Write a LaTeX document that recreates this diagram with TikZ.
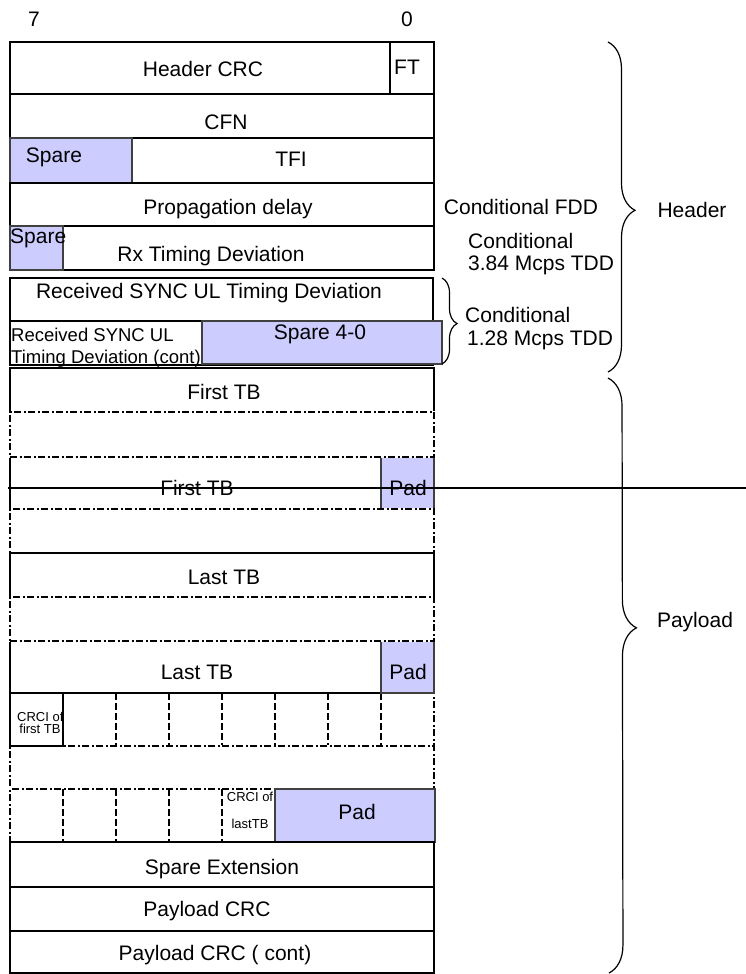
\documentclass[tikz,border=0pt]{standalone}
\usepackage{fontspec}
\setmainfont{Liberation Sans}
\usetikzlibrary{decorations.pathreplacing}
\definecolor{sparefill}{HTML}{CCCCFF}
\tikzset{
  box/.style={rectangle, draw=black, line width=1.1pt, inner sep=0pt, outer sep=0pt, anchor=north west},
  sparebox/.style={box, fill=sparefill, draw=black!75},
  dashrow/.style={box, line width=1.3pt, dash pattern=on 7pt off 2.5pt on 2pt off 2.5pt,
     preaction={draw=white, line width=2.4pt, solid}},
  divider/.style={line width=1.2pt, dash pattern=on 7pt off 3pt},
  lbl/.style={inner sep=0pt, font=\fontsize{21}{25}\selectfont, text height=15pt, text depth=0pt},
  slbl/.style={inner sep=0pt, font=\fontsize{18.5}{22}\selectfont, text height=13.2pt, text depth=0pt},
  tlbl/.style={inner sep=0pt, font=\fontsize{13}{15}\selectfont, text height=9.3pt, text depth=0pt},
  bracket/.style={line width=1.2pt, decorate}
}
\begin{document}
\begin{tikzpicture}[x=1pt,y=-1pt]
\useasboundingbox (0,0) rectangle (746,974);
% bit numbers
\node[lbl] (b7) at (34,19) {7};
\node[lbl] (b0) at (407,19) {0};
% header rows
\node[box, minimum width=424pt, minimum height=52pt] (r1) at (10,42) {};
\node[box, minimum width=44pt, minimum height=52pt] (ft) at (390,42) {};
\node[box, minimum width=424pt, minimum height=44pt] (r2) at (10,94) {};
\node[box, minimum width=424pt, minimum height=45pt] (r3) at (10,138) {};
\node[sparebox, minimum width=122pt, minimum height=45pt] (sp1) at (10,138) {};
\node[box, minimum width=424pt, minimum height=43pt] (r4) at (10,183) {};
\node[box, minimum width=424pt, minimum height=44pt] (r5) at (10,226) {};
\node[sparebox, minimum width=53pt, minimum height=44pt] (sp2) at (10,226) {};
\node[box, minimum width=423pt, minimum height=43pt] (r7) at (10,278) {};
\node[box, minimum width=423pt, minimum height=44pt] (r8) at (10,321) {};
\node[box, minimum width=192pt, minimum height=44pt] (rc) at (10,321) {};
\node[sparebox, minimum width=240pt, minimum height=43pt] (sp3) at (202,321) {};
% payload rows
\node[box, minimum width=424pt, minimum height=44pt] (r9) at (10,368) {};
\node[box, minimum width=424pt, minimum height=52pt] (r11) at (10,457) {};
\node[sparebox, minimum width=53pt, minimum height=52pt] (pad1) at (381,457) {};
\node[dashrow, minimum width=424pt, minimum height=45pt] (r10) at (10,412) {};
\node[dashrow, minimum width=424pt, minimum height=44pt] (r12) at (10,509) {};
\node[box, minimum width=424pt, minimum height=44pt] (r13) at (10,553) {};
\node[dashrow, minimum width=424pt, minimum height=53pt] (r16) at (10,693) {};
\draw[divider] (116,693) -- (116,746);
\draw[divider] (169,693) -- (169,746);
\draw[divider] (222,693) -- (222,746);
\draw[divider] (275,693) -- (275,746);
\draw[divider] (328,693) -- (328,746);
\draw[divider] (381,693) -- (381,746);
\node[box, minimum width=424pt, minimum height=52pt] (r15) at (10,641) {};
\node[sparebox, minimum width=53pt, minimum height=52pt] (pad2) at (381,641) {};
\node[dashrow, minimum width=424pt, minimum height=44pt] (r14) at (10,597) {};
\node[dashrow, minimum width=424pt, minimum height=43pt] (r17) at (10,746) {};
\node[box, minimum width=53pt, minimum height=53pt] (c1) at (10,693) {};
\node[dashrow, minimum width=265pt, minimum height=53pt] (r18) at (10,789) {};
\draw[divider] (63,789) -- (63,842);
\draw[divider] (116,789) -- (116,842);
\draw[divider] (169,789) -- (169,842);
\draw[divider] (222,789) -- (222,842);
\node[sparebox, minimum width=160pt, minimum height=53pt] (pad3) at (275,789) {};
\node[box, minimum width=424pt, minimum height=45pt] (r19) at (10,842) {};
\node[box, minimum width=424pt, minimum height=44pt] (r20) at (10,887) {};
\node[box, minimum width=424pt, minimum height=42pt] (r21) at (10,931) {};
% labels
\node[lbl] (t1) at (203,69.5) {Header CRC};
\node[lbl] (t2) at (407,67) {FT};
\node[lbl] (t3) at (226,122) {CFN};
\node[lbl] (t4) at (54,155) {Spare};
\node[lbl] (t5) at (291,159) {TFI};
\node[lbl] (t6) at (228,207) {Propagation delay};
\node[lbl, anchor=west] (t7) at (10,236) {Spare};
\node[lbl] (t8) at (211,254) {Rx Timing Deviation};
\node[lbl] (t9) at (209,291) {Received SYNC UL Timing Deviation};
\node[slbl, anchor=west] (t10) at (11,335) {Received SYNC UL};
\node[slbl, anchor=west] (t11) at (11,357) {Timing Deviation (cont)};
\node[lbl] (t12) at (320,332) {Spare 4-0};
\node[lbl] (t13) at (224,392) {First TB};
\node[lbl] (t14) at (197,488) {First TB};
\node[lbl] (t15) at (408,488) {Pad};
\node[lbl] (t16) at (224,577) {Last TB};
\node[lbl] (t17) at (197,672) {Last TB};
\node[lbl] (t18) at (408,672) {Pad};
\node[tlbl, anchor=west] (t19) at (17,717) {CRCI of};
\node[tlbl] (t20) at (40,729) {first TB};
\node[tlbl] (t21) at (250,797) {CRCI of};
\node[tlbl] (t22) at (250,824) {lastTB};
\node[lbl] (t23) at (357,812) {Pad};
\node[lbl] (t24) at (222,867) {Spare Extension};
\node[lbl] (t25) at (207,909) {Payload CRC};
\node[lbl] (t26) at (215,953) {Payload CRC ( cont)};
% right side notes
\node[lbl] (c1t) at (521,207) {Conditional FDD};
\node[lbl, anchor=west] (c2a) at (468,241) {Conditional};
\node[lbl, anchor=west] (c2b) at (468,263) {3.84 Mcps TDD};
\node[lbl, anchor=west] (c3a) at (465,315) {Conditional};
\node[lbl, anchor=west] (c3b) at (467,338) {1.28 Mcps TDD};
\node[lbl] (hdr) at (692,210) {Header};
\node[lbl] (pay) at (695,620) {Payload};
% braces
\coordinate (sb1) at (442,278);
\coordinate (sb2) at (442,364);
\draw[bracket, decoration={brace, amplitude=15pt, aspect=0.53}] (sb1) -- (sb2);
\coordinate (hb1) at (608,42);
\coordinate (hb2) at (608,372);
\draw[bracket, decoration={brace, amplitude=27pt, aspect=0.51}] (hb1) -- (hb2);
\coordinate (pb1) at (608,378);
\coordinate (pb2) at (609,973);
\draw[bracket, decoration={brace, amplitude=28pt, aspect=0.42}] (pb1) -- (pb2);
% horizontal line
\coordinate (hl1) at (8,488);
\coordinate (hl2) at (746,488);
\draw[line width=1.5pt] (hl1) -- (hl2);
\end{tikzpicture}
\end{document}
